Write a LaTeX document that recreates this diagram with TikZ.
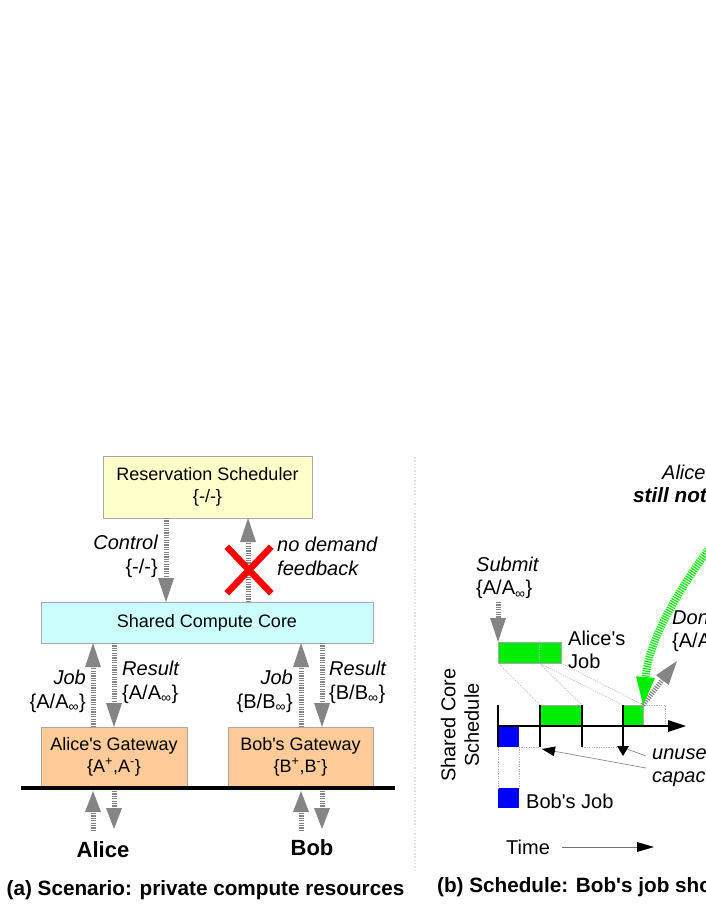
\documentclass[tikz,border=0pt]{standalone}
\usepackage{fontspec}
\setmainfont{Liberation Sans}
\usetikzlibrary{arrows.meta,shapes.misc}
\definecolor{ryellow}{HTML}{FFFFCC}
\definecolor{rcyan}{HTML}{CCFFFF}
\definecolor{rorange}{HTML}{FFCC99}
\definecolor{boxline}{HTML}{A8A8A8}
\definecolor{arrgray}{HTML}{858585}
\definecolor{bgreen}{HTML}{00EE00}
\definecolor{pblue}{HTML}{0000FF}
\newcommand\sq{\textquotesingle}
\begin{document}
\begin{tikzpicture}[x=1pt,y=-1pt,
  box/.style={draw=boxline, line width=0.9pt, inner sep=0pt, outer sep=0pt, align=center, font=\fontsize{18}{22}\selectfont},
  flow/.style={draw=arrgray, line width=5pt, dash pattern=on 1.2pt off 1.2pt,
     -{Triangle[length=24pt,width=16pt,line width=0pt,fill=arrgray]}},
  shortflow/.style={flow, -{Triangle[length=21pt,width=16pt,line width=0pt,fill=arrgray]}},
  gflow/.style={draw=bgreen, line width=8pt, dash pattern=on 1.2pt off 1.2pt,
     -{Triangle[length=28pt,width=19pt,line width=0pt,fill=bgreen]}},
  lbl/.style={inner sep=0pt, font=\fontsize{20}{23.5}\selectfont},
  bigname/.style={inner sep=0pt, font=\fontsize{22}{26}\selectfont\bfseries},
  caption/.style={inner sep=0pt, font=\fontsize{20.7}{24}\selectfont\bfseries},
  slot/.style={inner sep=0pt, outer sep=0pt, anchor=north west},
  greenslot/.style={slot, fill=bgreen, draw=black!35, line width=0.5pt},
  blueslot/.style={slot, fill=pblue},
  guide/.style={draw=black!30, line width=0.6pt, dash pattern=on 1.2pt off 1.2pt},
  tick/.style={draw=black, line width=1.6pt},
]
\useasboundingbox (0,0) rectangle (706,913);

% ---------------- (a) left panel ----------------
\node[box, fill=ryellow, minimum width=209, minimum height=62] (rs) at (207.5,487) {Reservation Scheduler\\\{-/-\}};
\node[box, fill=rcyan, minimum width=332, minimum height=41] (scc) at (207,622.5) {Shared Compute Core};
\node[box, fill=rorange, minimum width=146, minimum height=59] (ag) at (114,756.5) {Alice\sq s Gateway\\\{A\textsuperscript{+},A\textsuperscript{-}\}};
\node[box, fill=rorange, minimum width=145, minimum height=59] (bg) at (300.5,756.5) {Bob\sq s Gateway\\\{B\textsuperscript{+},B\textsuperscript{-}\}};

\coordinate (gl) at (21,788);
\coordinate (gr) at (395,788);
\draw[line width=4pt] (gl) -- (gr);

% control / feedback
\draw[flow] (166,0 |- rs.south) -- (166,0 |- scc.north);
\draw[flow] (248,0 |- scc.north) -- (248,0 |- rs.south);
\node[cross out, draw=red, line width=6.5pt, minimum width=38, minimum height=40, inner sep=0pt] (nox) at (249,570) {};
\node[lbl, align=right, anchor=east] (ctl) at (158,556.5) {\itshape Control\\\{-/-\}};
\node[lbl, align=left, anchor=west] (nfb) at (277,556.5) {\itshape no demand\\\itshape feedback};

% jobs / results
\draw[flow] (93,0 |- ag.north) -- (93,0 |- scc.south);
\draw[flow] (114,0 |- scc.south) -- (114,0 |- ag.north);
\draw[flow] (301,0 |- bg.north) -- (301,0 |- scc.south);
\draw[flow] (322,0 |- scc.south) -- (322,0 |- bg.north);
\node[lbl, align=right, anchor=east] (ajob) at (86,691.5) {\itshape Job\\\{A/A\textsubscript{∞}\}};
\node[lbl, align=left, anchor=west] (ares) at (122,682.5) {\itshape Result\\\{A/A\textsubscript{∞}\}};
\node[lbl, align=right, anchor=east] (bjob) at (293,691.5) {\itshape Job\\\{B/B\textsubscript{∞}\}};
\node[lbl, align=left, anchor=west] (bres) at (329,682.5) {\itshape Result\\\{B/B\textsubscript{∞}\}};

% users
\node[bigname] (alice) at (103,850) {Alice};
\node[bigname] (bob) at (312,848) {Bob};
\coordinate (au) at (93,831);  \coordinate (ad) at (114,829);
\coordinate (bu) at (301,831); \coordinate (bd) at (322,829);
\draw[shortflow] (au) -- (93,791);
\draw[shortflow] (114,791) -- (ad);
\draw[shortflow] (bu) -- (301,791);
\draw[shortflow] (322,791) -- (bd);

\node[caption] (capa) at (205.5,890) {(a) Scenario: private compute resources};

% ---------------- separator ----------------
\coordinate (st) at (415,457);
\coordinate (sb) at (415,870);
\draw[draw=black!12, line width=1.2pt, dash pattern=on 1.5pt off 1.8pt] (st) -- (sb);

% ---------------- (b) right panel ----------------
\node[lbl, align=left, anchor=west] (sub) at (476,578) {\itshape Submit\\\{A/A\textsubscript{∞}\}};
\node[greenslot, minimum width=63, minimum height=21] (aj) at (498,642) {};
\draw[guide] (539,642) -- (539,663);
\draw[flow] (498,602) -- (aj.north west);
\node[lbl, align=left, anchor=west] (ajl) at (568,650) {Alice\sq s\\Job};

% schedule slots
\node[blueslot, minimum width=21, minimum height=21] (b1) at (498,726) {};
\node[greenslot, minimum width=42, minimum height=21] (g1) at (540,705) {};
\node[greenslot, minimum width=20, minimum height=21] (g2) at (623,705) {};
\node[slot, draw=black!30, dash pattern=on 1.2pt off 1.2pt, line width=0.6pt, minimum width=22, minimum height=21] (g3) at (643,705) {};
\node[blueslot, minimum width=21, minimum height=20] (bj) at (498,788) {};
\node[lbl, anchor=west] (bjl) at (526,801) {Bob\sq s Job};

% guide lines
\draw[guide] (aj.south west) -- (g1.north west);
\draw[guide] (539,663) -- (g1.north east);
\draw[guide] (539,663) -- (g2.north west);
\draw[guide] (aj.south east) -- (g2.north east);
\draw[guide] (b1.south east) -- (540,747);
\draw[guide] (582,747) -- (623,747);
\draw[guide] (b1.south west) -- (bj.north west);
\draw[guide] (b1.south east) -- (bj.north east);

% axes
\coordinate (ax0) at (498,726);
\coordinate (ax1) at (686,726);
\draw[tick, -{Triangle[length=18pt,width=12pt,line width=0pt]}] (ax0) -- (ax1);
\draw[tick] (498,705) -- (498,747);
\draw[tick] (540,705) -- (540,747);
\draw[tick] (582,705) -- (582,747);
\draw[tick, -{Triangle[length=10pt,width=12pt,line width=0pt]}] (623,705) -- (623,756);

\node[lbl, rotate=90, align=center] (scs) at (460,725) {Shared Core\\Schedule};

% unused capacity
\node[lbl, align=left, anchor=west] (unu) at (652,766) {\itshape unused\\\itshape capacity};
\draw[draw=black!45, line width=0.7pt, -{Triangle[length=13pt,width=10pt,line width=0pt,fill=black]}] (646,768) -- (542,749);
\draw[draw=black!45, line width=0.7pt] (646,756) -- (627,749);

% done / green arrows
\draw[flow] (g2.north east) -- (677,661);
\node[lbl, align=left, anchor=west] (done) at (672,631) {\itshape Done\\\{A/A\textsubscript{∞}\}};
\coordinate (gstart) at (775,468);
\draw[gflow] (gstart) .. controls (700,552) and (650,628) .. (g2.north east);

\node[lbl, anchor=west] (al) at (662,472) {\itshape Alice};
\node[inner sep=0pt, anchor=west, font=\fontsize{20.7}{24}\selectfont\bfseries\itshape] (snf) at (633,495) {still not};

% time
\node[lbl, anchor=west] (time) at (506,847) {Time};
\coordinate (t0) at (562,847);
\coordinate (t1) at (654,847);
\draw[draw=black!55, line width=0.7pt, -{Triangle[length=17pt,width=10pt,line width=0pt,fill=black]}] (t0) -- (t1);

\node[caption, anchor=west] (capb) at (437,887) {(b) Schedule: Bob\sq s job sho};
\end{tikzpicture}
\end{document}
